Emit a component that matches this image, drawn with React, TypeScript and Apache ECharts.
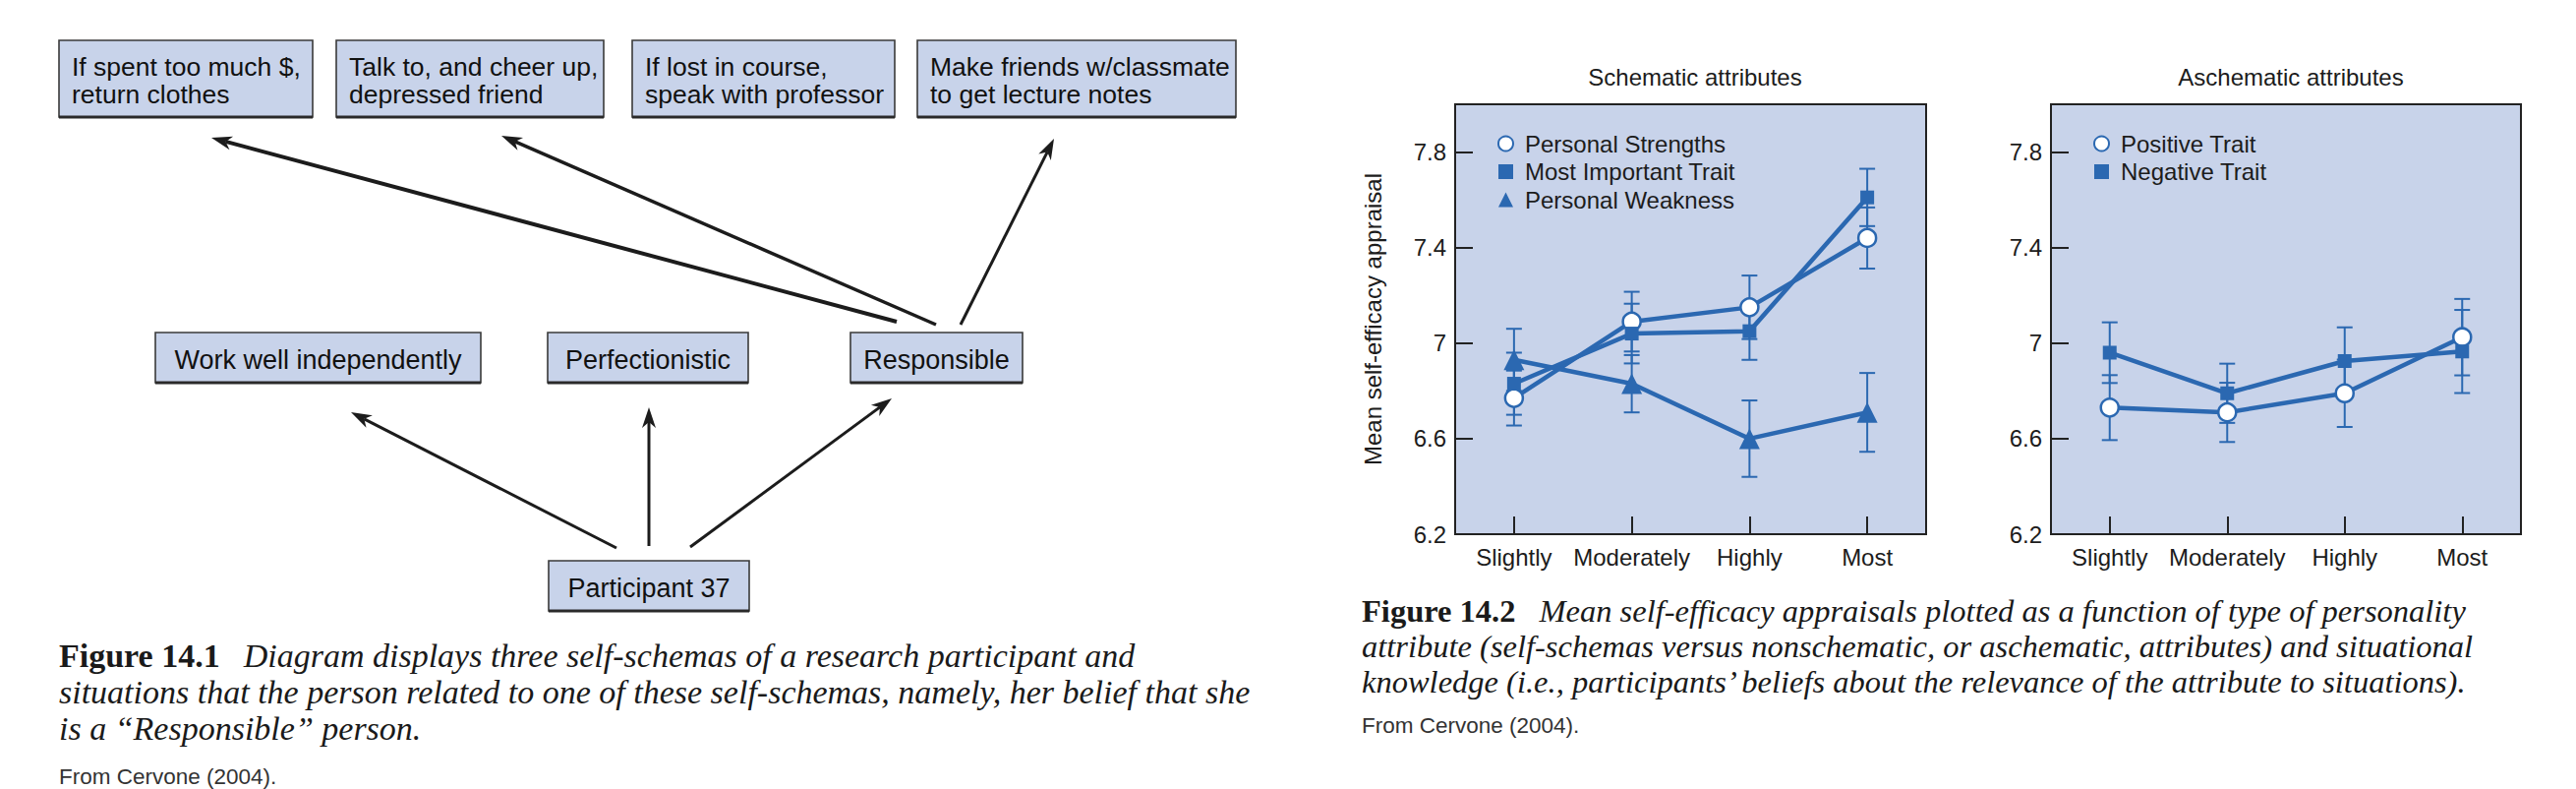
import React, { useEffect, useRef } from "react";
import * as echarts from "echarts";

// ---------------- data ----------------
const categories = ["Slightly", "Moderately", "Highly", "Most"];
const yTicks = [6.2, 6.6, 7, 7.4, 7.8];

// Schematic attributes
const strengths = [6.77, 7.09, 7.15, 7.44];
const strengthsErr = [0.115, 0.125, 0.133, 0.128];
const importantTrait = [6.83, 7.04, 7.05, 7.61];
const importantErr = [0.13, 0.125, 0.12, 0.12];
const weakness = [6.93, 6.83, 6.6, 6.71];
const weaknessErr = [0.13, 0.12, 0.16, 0.165];

// Aschematic attributes
const positiveTrait = [6.73, 6.71, 6.79, 7.025];
const positiveErr = [0.136, 0.124, 0.141, 0.16];
const negativeTrait = [6.96, 6.79, 6.925, 6.965];
const negativeErr = [0.127, 0.124, 0.141, 0.174];

// Diagram texts
const situationLabels = [
  "If spent too much $,\nreturn clothes",
  "Talk to, and cheer up,\ndepressed friend",
  "If lost in course,\nspeak with professor",
  "Make friends w/classmate\nto get lecture notes",
];
const schemaLabels = ["Work well independently", "Perfectionistic", "Responsible"];
const participantLabel = "Participant 37";

const caption1Lines = [
  "Diagram displays three self-schemas of a research participant and",
  "situations that the person related to one of these self-schemas, namely, her belief that she",
  "is a \u201cResponsible\u201d person.",
];
const caption2Lines = [
  "Mean self-efficacy appraisals plotted as a function of type of personality",
  "attribute (self-schemas versus nonschematic, or aschematic, attributes) and situational",
  "knowledge (i.e., participants\u2019 beliefs about the relevance of the attribute to situations).",
];
const sourceText = "From Cervone (2004).";

// ---------------- styling / layout ----------------
const SANS = "'Liberation Sans', Arial, Helvetica, sans-serif";
const SERIF = "'Liberation Serif', 'Times New Roman', serif";
const BLUE = "#2b68b1";
const PLOT_BG = "#c8d3ea";
const BOX_BG = "#c8d3ea";
const INK = "#1c1c1c";

const topBoxRects = [
  [60, 41, 258, 78],
  [342, 41, 272, 78],
  [643, 41, 267, 78],
  [933, 41, 324, 78],
];
const schemaBoxRects = [
  [158, 338, 331, 51],
  [557, 338, 204, 51],
  [865, 338, 175, 51],
];
const participantRect = [558, 570, 204, 51];

const arrows: [number, number, number, number, number][] = [
  [912, 327, 215, 140, 4],
  [952, 330, 510, 138, 3.5],
  [977, 330, 1072, 141, 3],
  [627, 557, 357, 419, 3],
  [660, 555, 660, 414, 3],
  [702, 556, 907, 405, 3],
];

function boxEls(r: number[], label: string, align: "left" | "center", fontSize: number) {
  const [x, y, w, h] = r;
  return [
    {
      type: "rect",
      shape: { x, y, width: w, height: h },
      style: { fill: BOX_BG, stroke: "#3a3a3a", lineWidth: 1.6 },
    },
    {
      type: "line",
      shape: { x1: x, y1: y + h, x2: x + w, y2: y + h },
      style: { stroke: "#2a2a2a", lineWidth: 3 },
    },
    {
      type: "text",
      x: align === "left" ? x + 13 : x + w / 2,
      y: y + h / 2 + 2,
      style: {
        text: label,
        fontSize,
        fontFamily: SANS,
        fill: "#111",
        align,
        verticalAlign: "middle",
        lineHeight: 28,
      },
    },
  ];
}

function arrowEls(x1: number, y1: number, x2: number, y2: number, w: number) {
  const dx = x2 - x1;
  const dy = y2 - y1;
  const L = Math.hypot(dx, dy);
  const ux = dx / L;
  const uy = dy / L;
  const hl = 21;
  const hw = 7;
  const bx = x2 - ux * hl;
  const by = y2 - uy * hl;
  const px = -uy;
  const py = ux;
  return [
    {
      type: "line",
      shape: { x1, y1, x2: bx + ux * 6, y2: by + uy * 6 },
      style: { stroke: INK, lineWidth: w },
    },
    {
      type: "polygon",
      shape: {
        points: [
          [x2, y2],
          [bx + px * hw, by + py * hw],
          [bx + ux * 6, by + uy * 6],
          [bx - px * hw, by - py * hw],
        ],
      },
      style: { fill: INK },
    },
  ];
}

function captionEl(x: number, y: number, label: string, lines: string[], lh: number, fs: number) {
  const text =
    "{b|" + label + "}{g|}{i|" + lines[0] + "}\n" + lines.slice(1).map((l) => "{i|" + l + "}").join("\n");
  return {
    type: "text",
    x,
    y,
    style: {
      text,
      fill: "#1a1a1a",
      rich: {
        b: { fontFamily: SERIF, fontWeight: "bold", fontSize: fs, lineHeight: lh, fill: "#1a1a1a" },
        g: { width: 24, lineHeight: lh },
        i: { fontFamily: SERIF, fontStyle: "italic", fontSize: fs, lineHeight: lh, fill: "#1a1a1a" },
      },
    },
  };
}

function errData(vals: number[], errs: number[]) {
  return vals.map((v, i) => [i, v - errs[i], v + errs[i]]);
}

function errSeries(name: string, idx: number, vals: number[], errs: number[]) {
  return {
    type: "custom",
    name,
    xAxisIndex: idx,
    yAxisIndex: idx,
    z: 1,
    encode: { x: 0, y: [1, 2] },
    data: errData(vals, errs),
    renderItem: (params: any, api: any) => {
      const xi = api.value(0);
      const lo = api.coord([xi, api.value(1)]);
      const hi = api.coord([xi, api.value(2)]);
      const cw = 8;
      const st = { stroke: BLUE, lineWidth: 2 };
      return {
        type: "group",
        children: [
          { type: "line", shape: { x1: lo[0], y1: lo[1], x2: hi[0], y2: hi[1] }, style: st },
          { type: "line", shape: { x1: lo[0] - cw, y1: lo[1], x2: lo[0] + cw, y2: lo[1] }, style: st },
          { type: "line", shape: { x1: hi[0] - cw, y1: hi[1], x2: hi[0] + cw, y2: hi[1] }, style: st },
        ],
      };
    },
  };
}

function lineSeries(name: string, idx: number, vals: number[], kind: "circle" | "rect" | "triangle") {
  const size = kind === "circle" ? 18 : kind === "rect" ? 14 : 21;
  return {
    type: "line",
    name,
    xAxisIndex: idx,
    yAxisIndex: idx,
    z: 3,
    data: vals,
    symbol: kind,
    symbolSize: size,
    lineStyle: { color: BLUE, width: 4.5 },
    itemStyle:
      kind === "circle"
        ? { color: "#ffffff", borderColor: BLUE, borderWidth: 2.5 }
        : { color: BLUE, borderColor: BLUE, borderWidth: 0 },
  };
}

const grids = [
  { left: 1480, top: 106, width: 479, height: 437 },
  { left: 2086, top: 106, width: 478, height: 437 },
];

const legendText = { fontFamily: SANS, fontSize: 24, color: INK, lineHeight: 24, padding: [0, 0, 0, 7] };

export default function App() {
  const ref = useRef<HTMLDivElement>(null);

  useEffect(() => {
    if (!ref.current) return;
    const chart = echarts.init(ref.current, null, { renderer: "svg" });

    const graphic: any[] = [];
    topBoxRects.forEach((r, i) => graphic.push(...boxEls(r, situationLabels[i], "left", 26.5)));
    schemaBoxRects.forEach((r, i) => graphic.push(...boxEls(r, schemaLabels[i], "center", 27)));
    graphic.push(...boxEls(participantRect, participantLabel, "center", 27));
    arrows.forEach((a) => graphic.push(...arrowEls(a[0], a[1], a[2], a[3], a[4])));
    graphic.push(captionEl(60, 648, "Figure 14.1", caption1Lines, 37, 34));
    graphic.push(captionEl(1385, 603, "Figure 14.2", caption2Lines, 36, 32.5));
    graphic.push({
      type: "text",
      x: 60,
      y: 778,
      style: { text: sourceText, fontFamily: SANS, fontSize: 22.5, fill: "#333" },
    });
    graphic.push({
      type: "text",
      x: 1385,
      y: 726,
      style: { text: sourceText, fontFamily: SANS, fontSize: 22.5, fill: "#333" },
    });

    const option: any = {
      animation: false,
      backgroundColor: "#ffffff",
      title: [
        {
          text: "Schematic attributes",
          left: 1719,
          top: 61,
          textAlign: "center",
          textStyle: { fontFamily: SANS, fontSize: 24, fontWeight: "normal", color: INK },
        },
        {
          text: "Aschematic attributes",
          left: 2325,
          top: 61,
          textAlign: "center",
          textStyle: { fontFamily: SANS, fontSize: 24, fontWeight: "normal", color: INK },
        },
      ],
      legend: [
        {
          data: [
            { name: "Personal Strengths", icon: "circle" },
            { name: "Most Important Trait", icon: "rect" },
            { name: "Personal Weakness", icon: "triangle" },
          ],
          orient: "vertical",
          left: 1523,
          top: 134,
          itemWidth: 15,
          itemHeight: 15,
          itemGap: 4.5,
          padding: 0,
          selectedMode: false,
          textStyle: legendText,
        },
        {
          data: [
            { name: "Positive Trait", icon: "circle" },
            { name: "Negative Trait", icon: "rect" },
          ],
          orient: "vertical",
          left: 2129,
          top: 134,
          itemWidth: 15,
          itemHeight: 15,
          itemGap: 4.5,
          padding: 0,
          selectedMode: false,
          textStyle: legendText,
        },
      ],
      grid: grids.map((g) => ({
        ...g,
        show: true,
        backgroundColor: PLOT_BG,
        borderColor: "#222",
        borderWidth: 2,
      })),
      xAxis: [0, 1].map((i) => ({
        type: "category",
        gridIndex: i,
        data: categories,
        boundaryGap: true,
        axisLine: { show: false },
        axisTick: {
          show: true,
          inside: true,
          alignWithLabel: true,
          interval: 0,
          length: 18,
          lineStyle: { color: "#222", width: 2 },
        },
        axisLabel: { fontFamily: SANS, fontSize: 24, color: INK, margin: 11, interval: 0 },
        splitLine: { show: false },
      })),
      yAxis: [0, 1].map((i) => ({
        type: "value",
        gridIndex: i,
        min: 6.2,
        max: 8.0,
        name: i === 0 ? "Mean self-efficacy appraisal" : "",
        nameLocation: "middle",
        nameGap: 72,
        nameRotate: 90,
        nameTextStyle: { fontFamily: SANS, fontSize: 24, color: INK },
        axisLine: { show: false },
        axisTick: {
          show: true,
          inside: true,
          length: 18,
          customValues: yTicks,
          lineStyle: { color: "#222", width: 2 },
        },
        axisLabel: {
          fontFamily: SANS,
          fontSize: 24,
          color: INK,
          margin: 9,
          customValues: yTicks,
        },
        splitLine: { show: false },
      })),
      series: [
        errSeries("e1", 0, strengths, strengthsErr),
        errSeries("e2", 0, importantTrait, importantErr),
        errSeries("e3", 0, weakness, weaknessErr),
        errSeries("e4", 1, positiveTrait, positiveErr),
        errSeries("e5", 1, negativeTrait, negativeErr),
        lineSeries("Personal Strengths", 0, strengths, "circle"),
        lineSeries("Most Important Trait", 0, importantTrait, "rect"),
        lineSeries("Personal Weakness", 0, weakness, "triangle"),
        lineSeries("Positive Trait", 1, positiveTrait, "circle"),
        lineSeries("Negative Trait", 1, negativeTrait, "rect"),
      ],
      graphic,
    };

    chart.setOption(option);
    return () => chart.dispose();
  }, []);

  return (
    <div
      ref={ref}
      style={{ position: "fixed", left: 0, top: 0, width: 2620, height: 802, background: "#fff" }}
    />
  );
}
